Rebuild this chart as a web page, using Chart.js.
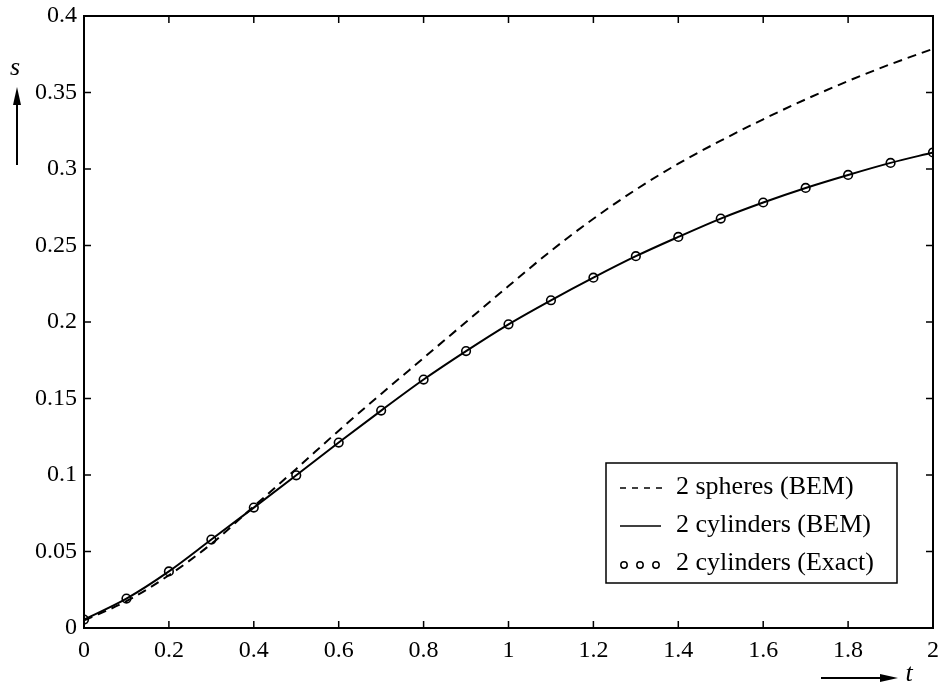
<!DOCTYPE html>
<html>
<head>
<meta charset="utf-8">
<script src="https://cdn.jsdelivr.net/npm/chart.js@4.4.1/dist/chart.umd.min.js"></script>
<style>
html,body{margin:0;padding:0;background:#fff;}
#wrap{width:941px;height:686px;position:relative;}
</style>
</head>
<body>
<div id="wrap"><canvas id="c" width="941" height="686"></canvas></div>
<script>
// ---- data ----
const tValues = [0,0.1,0.2,0.3,0.4,0.5,0.6,0.7,0.8,0.9,1.0,1.1,1.2,1.3,1.4,1.5,1.6,1.7,1.8,1.9,2.0];
const spheresBEM = [0.005,0.0175,0.0345,0.055,0.0795,0.104,0.129,0.153,0.1765,0.2,0.2235,0.2465,0.2675,0.2865,0.3035,0.3185,0.3325,0.3455,0.3575,0.3685,0.3785];
const cylindersBEM = [0.0055,0.0192,0.037,0.0578,0.0787,0.0998,0.1212,0.1421,0.1624,0.181,0.1985,0.2142,0.229,0.243,0.2556,0.2676,0.2781,0.2876,0.2961,0.304,0.3108];
const cylindersExact = [0.0055,0.0192,0.037,0.0578,0.0787,0.0998,0.1212,0.1421,0.1624,0.181,0.1985,0.2142,0.229,0.243,0.2556,0.2676,0.2781,0.2876,0.2961,0.304,0.3108];
const xTickValues = [0,0.2,0.4,0.6,0.8,1,1.2,1.4,1.6,1.8,2];
const xTickLabels = ['0','0.2','0.4','0.6','0.8','1','1.2','1.4','1.6','1.8','2'];
const yTickValues = [0,0.05,0.1,0.15,0.2,0.25,0.3,0.35,0.4];
const yTickLabels = ['0','0.05','0.1','0.15','0.2','0.25','0.3','0.35','0.4'];
const legendLabels = ['2 spheres (BEM)','2 cylinders (BEM)','2 cylinders (Exact)'];
const xAxisName = 't';
const yAxisName = 's';

const pts = arr => tValues.map((t,i)=>({x:t,y:arr[i]}));
const tickFont = {family:'"Liberation Serif", serif', size:24};

function labelFor(values, labels, v){
  for (let i=0;i<values.length;i++) if (Math.abs(values[i]-v)<1e-9) return labels[i];
  return '';
}

const framePlugin = {
  id:'frame',
  afterDraw(chart){
    const {ctx, chartArea:a, scales} = chart;
    ctx.save();
    ctx.strokeStyle='#000';
    ctx.lineWidth=2;
    ctx.strokeRect(a.left, a.top, a.right-a.left, a.bottom-a.top);
    const tl=7;
    ctx.lineWidth=1.5;
    ctx.beginPath();
    xTickValues.forEach(v=>{
      const px=scales.x.getPixelForValue(v);
      ctx.moveTo(px,a.bottom); ctx.lineTo(px,a.bottom-tl);
      ctx.moveTo(px,a.top); ctx.lineTo(px,a.top+tl);
    });
    yTickValues.forEach(v=>{
      const py=scales.y.getPixelForValue(v);
      ctx.moveTo(a.left,py); ctx.lineTo(a.left+tl,py);
      ctx.moveTo(a.right,py); ctx.lineTo(a.right-tl,py);
    });
    ctx.stroke();

    ctx.fillStyle='#000';
    ctx.font='italic 26px "Liberation Serif", serif';
    ctx.textAlign='center'; ctx.textBaseline='middle';
    ctx.fillText(yAxisName, 15, 68);
    ctx.lineWidth=2;
    ctx.beginPath(); ctx.moveTo(17,165); ctx.lineTo(17,100); ctx.stroke();
    ctx.beginPath(); ctx.moveTo(17,87); ctx.lineTo(13,105); ctx.lineTo(21,105); ctx.closePath(); ctx.fill();

    ctx.fillText(xAxisName, 909, 674);
    ctx.beginPath(); ctx.moveTo(821,678); ctx.lineTo(885,678); ctx.stroke();
    ctx.beginPath(); ctx.moveTo(898,678); ctx.lineTo(880,674); ctx.lineTo(880,682); ctx.closePath(); ctx.fill();

    const lx=606, ly=463, lw=291, lh=120;
    ctx.fillStyle='#fff';
    ctx.fillRect(lx,ly,lw,lh);
    ctx.lineWidth=1.5;
    ctx.strokeStyle='#000';
    ctx.strokeRect(lx,ly,lw,lh);
    const rows=[487,525,563];
    ctx.fillStyle='#000';
    ctx.font='26px "Liberation Serif", serif';
    ctx.textAlign='left'; ctx.textBaseline='middle';
    legendLabels.forEach((lab,i)=>ctx.fillText(lab, 676, rows[i]));
    ctx.lineWidth=1.5;
    ctx.setLineDash([6,6]);
    ctx.beginPath(); ctx.moveTo(620,rows[0]+1); ctx.lineTo(662,rows[0]+1); ctx.stroke();
    ctx.setLineDash([]);
    ctx.beginPath(); ctx.moveTo(620,rows[1]+1); ctx.lineTo(661,rows[1]+1); ctx.stroke();
    [624,640,656].forEach(cx=>{ctx.beginPath(); ctx.arc(cx,rows[2]+2,3.2,0,Math.PI*2); ctx.stroke();});
    ctx.restore();
  }
};

new Chart(document.getElementById('c'), {
  type:'scatter',
  data:{
    datasets:[
      {label:legendLabels[0], data:pts(spheresBEM), showLine:true, borderColor:'#000', borderWidth:2, borderDash:[9,6], pointRadius:0, tension:0.4, cubicInterpolationMode:'monotone', fill:false},
      {label:legendLabels[1], data:pts(cylindersBEM), showLine:true, borderColor:'#000', borderWidth:2, pointRadius:0, tension:0.4, cubicInterpolationMode:'monotone', fill:false},
      {label:legendLabels[2], data:pts(cylindersExact), showLine:false, borderColor:'#000', backgroundColor:'rgba(255,255,255,0)', borderWidth:1.6, pointRadius:4.3, pointStyle:'circle'}
    ]
  },
  options:{
    responsive:false,
    animation:false,
    layout:{padding:{top:16,right:8,left:0,bottom:0}},
    plugins:{legend:{display:false}, tooltip:{enabled:false}},
    scales:{
      x:{type:'linear', min:0, max:2,
        grid:{display:false, drawTicks:false}, border:{display:false},
        afterBuildTicks(s){ s.ticks = xTickValues.map(v=>({value:v})); },
        afterFit(s){ s.height=58; s.paddingLeft=0; s.paddingRight=0; },
        ticks:{color:'#000', font:tickFont, padding:8, maxRotation:0, autoSkip:false,
          callback:(v)=>labelFor(xTickValues,xTickLabels,v)}
      },
      y:{type:'linear', min:0, max:0.4,
        grid:{display:false, drawTicks:false}, border:{display:false},
        afterBuildTicks(s){ s.ticks = yTickValues.map(v=>({value:v})); },
        afterFit(s){ s.width=84; s.paddingTop=0; s.paddingBottom=0; },
        ticks:{color:'#000', font:tickFont, padding:7, autoSkip:false,
          callback:(v)=>labelFor(yTickValues,yTickLabels,v)}
      }
    }
  },
  plugins:[framePlugin]
});
</script>
</body>
</html>
